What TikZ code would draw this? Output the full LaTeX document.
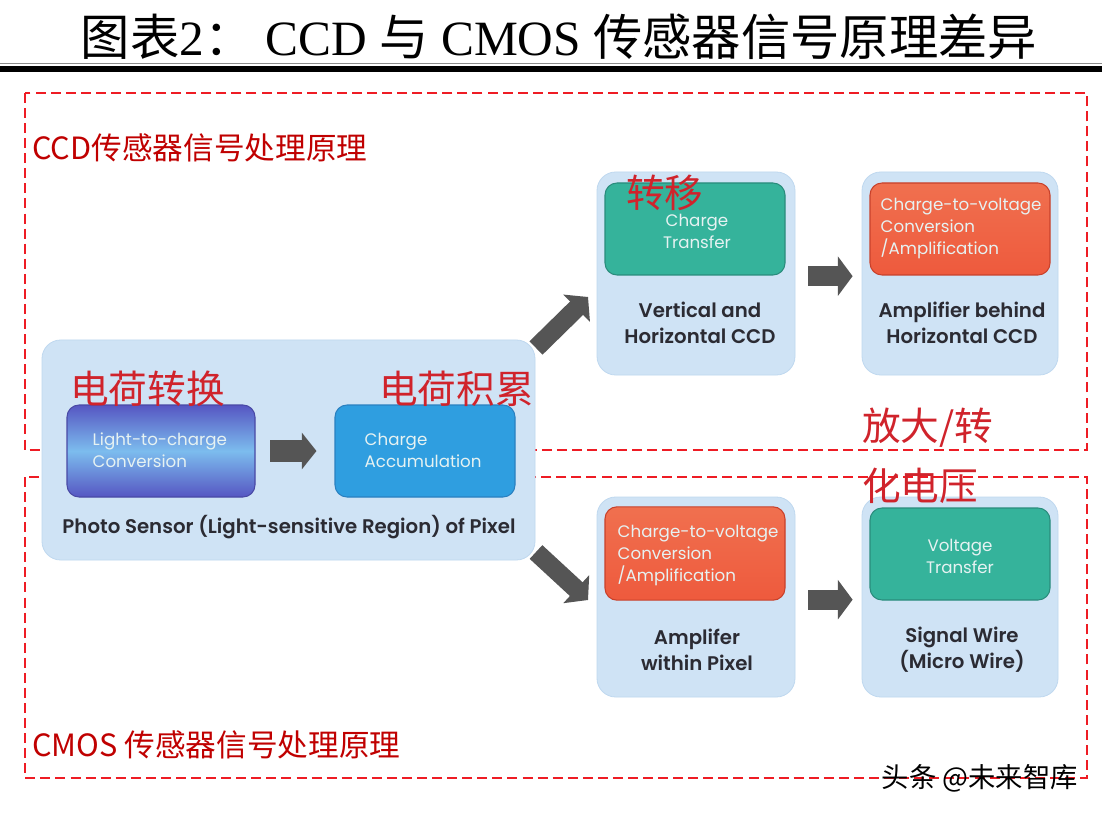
\documentclass[tikz,border=0pt]{standalone}
\usepackage{fontspec}
\setmainfont{Liberation Serif}
\newfontfamily\cjk{Noto Sans CJK SC}
\newfontfamily\eng[BoldFont={Poppins SemiBold}]{Poppins}
\usetikzlibrary{arrows.meta}
\definecolor{lb}{HTML}{CFE3F5}
\definecolor{lbedge}{HTML}{BFD8EF}
\definecolor{teal}{HTML}{35B39B}
\definecolor{tealedge}{HTML}{2A8C7C}
\definecolor{redbox}{HTML}{EE5A3D}
\definecolor{redtop}{HTML}{F0704F}
\definecolor{rededge}{HTML}{C8412B}
\definecolor{accblue}{HTML}{2F9EE0}
\definecolor{accedge}{HTML}{2A80C0}
\definecolor{ltcA}{HTML}{5656C2}
\definecolor{ltcB}{HTML}{7CBCEE}
\definecolor{arrowgray}{HTML}{555555}
\definecolor{annored}{HTML}{D0232B}
\definecolor{dashred}{HTML}{EE1C24}
\definecolor{labelred}{HTML}{C00000}
\definecolor{captext}{HTML}{2B2B33}
\definecolor{intext}{HTML}{E6F2F2}
\begin{document}
\begin{tikzpicture}[x=0.75pt,y=-0.75pt,
  outerbox/.style={fill=lb, draw=lbedge, line width=0.6pt, rounded corners=14pt, inner sep=0pt},
  innerbox/.style={rounded corners=9pt, inner sep=0pt, line width=0.8pt, minimum width=135pt, minimum height=69pt},
  intxt/.style={text=intext, font=\eng\fontsize{12.5}{16.5}\selectfont},
  captxt/.style={text=captext, font=\eng\bfseries\fontsize{14.8}{19.5}\selectfont, align=center},
  anno/.style={text=annored, font=\cjk\fontsize{29}{33}\selectfont, inner sep=0pt},
  redlabel/.style={text=labelred, font=\cjk\fontsize{23}{27}\selectfont, inner sep=0pt},
  reddash/.style={draw=dashred, line width=1.4pt, dash pattern=on 7.5pt off 3.8pt},
  blockarrow/.style={draw=arrowgray, line width=15pt, -{Triangle[length=11pt,width=29pt]}},
]
\useasboundingbox[fill=white] (0,0) rectangle (1102,816);

% title
\node[font=\fontsize{37}{41}\selectfont, inner sep=0pt] (title) at (559,37)
  {{\cjk 图表}2{\cjk ：}\ CCD {\cjk 与} CMOS {\cjk 传感器信号原理差异}};
\fill[black!45] (0,62.6) rectangle (1102,63.6);
\fill[black] (0,66) rectangle (1102,72);

% dashed frames
\draw[reddash] (25,93) rectangle (1087,450);
\draw[reddash] (25,477) rectangle (1087,778);
\node[redlabel, anchor=west] (ccdlabel) at (32,148) {CCD传感器信号处理原理};
\node[redlabel, anchor=west] (cmoslabel) at (32,745) {CMOS 传感器信号处理原理};

% photo sensor
\node[outerbox, minimum width=369.75pt, minimum height=165pt] (ps) at (288.5,450) {};
\node[innerbox, draw=ltcA!85!black, top color=ltcA, bottom color=ltcA, middle color=ltcB, minimum width=141pt] (ltc) at (161,451) {};
\node[intxt, anchor=west, align=left] (ltct) at (88,450) {Light-to-charge\\Conversion};
\node[innerbox, fill=accblue, draw=accedge] (ca) at (425,451) {};
\node[intxt, anchor=west, align=left] (cat) at (360,450) {Charge\\Accumulation};
\node[captxt] (psc) at (289,527) {Photo Sensor (Light-sensitive Region) of Pixel};
\draw[blockarrow, line width=16pt, -{Triangle[length=11pt,width=27pt]}, shorten <=11pt, shorten >=13.5pt] (ltc.east) -- (ca.west);

% CCD row
\node[outerbox, minimum width=148.5pt, minimum height=152.25pt] (b1) at (696,273.5) {};
\node[innerbox, fill=teal, draw=tealedge] (g1) at (695,229) {};
\node[intxt, align=center] (g1t) at (697,231) {Charge\\Transfer};
\node[captxt] (b1c) at (700,323) {Vertical and\\Horizontal CCD};

\node[outerbox, minimum width=147pt, minimum height=152.25pt] (b2) at (960,273.5) {};
\node[innerbox, draw=rededge, top color=redtop, bottom color=redbox] (r2) at (960,229) {};
\node[intxt, anchor=west, align=left] (r2t) at (876,229) {Charge-to-voltage\\Conversion\\/Amplification};
\node[captxt] (b2c) at (962,323) {Amplifier behind\\Horizontal CCD};
\draw[blockarrow, shorten <=9.75pt, shorten >=6.75pt] ([yshift=-2pt]b1.east) -- ([yshift=-2pt]b2.west);

% CMOS row
\node[outerbox, minimum width=148.5pt, minimum height=150pt] (b3) at (696,597) {};
\node[innerbox, draw=rededge, top color=redtop, bottom color=redbox, minimum height=70pt] (r3) at (695,553.5) {};
\node[intxt, anchor=west, align=left] (r3t) at (613,555) {Charge-to-voltage\\Conversion\\/Amplification};
\node[captxt] (b3c) at (697,650) {Amplifer\\within Pixel};

\node[outerbox, minimum width=147pt, minimum height=150pt] (b4) at (960,597) {};
\node[innerbox, fill=teal, draw=tealedge] (g4) at (960,554) {};
\node[intxt, align=center] (g4t) at (960,556) {Voltage\\Transfer};
\node[captxt] (b4c) at (962,650) {Signal Wire\\(Micro Wire)};
\draw[blockarrow, shorten <=9.75pt, shorten >=6.75pt] ([yshift=-2pt]b3.east) -- ([yshift=-2pt]b4.west);

% diagonal arrows
\coordinate (d1s) at (536,348);
\coordinate (d1e) at (588,297);
\coordinate (d2s) at (536,552);
\coordinate (d2e) at (588,600);
\draw[blockarrow, line width=14pt, -{Triangle[length=12pt,width=28pt]}] (d1s) -- (d1e);
\draw[blockarrow, line width=14pt, -{Triangle[length=12pt,width=28pt]}] (d2s) -- (d2e);

% red annotations
\node[anno, anchor=west] (a1) at (70,389) {电荷转换};
\node[anno, anchor=west] (a2) at (379,389) {电荷积累};
\node[anno, anchor=west] (a3) at (626,193) {转移};
\node[anno, anchor=west] (a4) at (862,428) {放大/转};
\node[anno, anchor=west] (a5) at (862,486) {化电压};

% watermark
\node[font=\cjk\fontsize{20.5}{24}\selectfont, anchor=east, inner sep=0pt] (wm) at (1078,778) {头条 @未来智库};
\end{tikzpicture}
\end{document}
